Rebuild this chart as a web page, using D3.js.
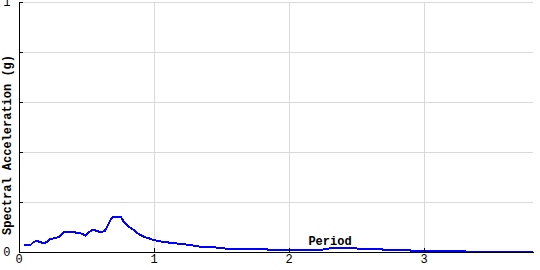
<!DOCTYPE html>
<html>
<head>
<meta charset="utf-8">
<script src="https://cdn.jsdelivr.net/npm/d3@7"></script>
<style>
  body { margin: 0; background: #fff; }
  .grid line { stroke: #d9d9d9; }
  .grid path { display: none; }
  .axis text { font-family: "Liberation Mono", monospace; font-size: 12px; fill: #000; }
  .axis path, .axis line { stroke: #000; }
</style>
</head>
<body>
<div id="chart"></div>
<script>
// Period (s) and spectral acceleration (g)
var periods = [0.04, 0.089, 0.113, 0.139, 0.163, 0.187, 0.213, 0.237, 0.274, 0.299,
    0.336, 0.361, 0.385, 0.41, 0.447, 0.472, 0.496, 0.521, 0.55, 0.583,
    0.607, 0.639, 0.657, 0.681, 0.699, 0.756, 0.78, 0.817, 0.854, 0.891,
    0.928, 0.965, 1.0, 1.064, 1.126, 1.2, 1.274, 1.348, 1.444, 1.546,
    1.84, 1.85, 2.25, 2.26, 2.36, 2.5, 2.51, 2.69, 2.7, 2.9,
    2.91, 3.3, 3.31, 3.81];
var accel = [0.026, 0.026, 0.039, 0.042, 0.037, 0.033, 0.039, 0.051, 0.053, 0.059,
    0.079, 0.077, 0.079, 0.077, 0.074, 0.071, 0.063, 0.077, 0.087, 0.082,
    0.077, 0.082, 0.099, 0.126, 0.139, 0.139, 0.119, 0.099, 0.086, 0.069,
    0.059, 0.053, 0.046, 0.039, 0.035, 0.030, 0.026, 0.019, 0.017, 0.011,
    0.011, 0.006, 0.006, 0.010, 0.015, 0.015, 0.011, 0.011, 0.006, 0.006,
    0.002, 0.002, 0.0, 0.0];
var xTicks = [0, 1, 2, 3];
var yTicks = [0, 0.2, 0.4, 0.6, 0.8, 1];
var yTickLabels = ["0", "", "", "", "", "1"];

var width = 540, height = 270;
var plotLeft = 18.5, plotRight = 533, plotTop = 1.5, plotBottom = 251.5;

var data = periods.map(function(p, i) { return { t: p, sa: accel[i] }; });

var xScale = d3.scaleLinear()
    .domain([0, (plotRight - plotLeft) / 135])
    .range([plotLeft, plotRight]);

var yScale = d3.scaleLinear()
    .domain([0, 1])
    .range([plotBottom, plotTop]);

var svg = d3.select("#chart")
    .append("svg")
    .attr("width", width)
    .attr("height", height);

// Gridlines
svg.append("g")
    .attr("class", "grid")
    .attr("shape-rendering", "crispEdges")
    .attr("transform", "translate(0," + plotBottom + ")")
    .call(d3.axisBottom(xScale).tickValues(xTicks.slice(1)).tickSize(-(plotBottom - plotTop)).tickFormat(""));

svg.append("g")
    .attr("class", "grid")
    .attr("shape-rendering", "crispEdges")
    .attr("transform", "translate(" + plotLeft + ",0)")
    .call(d3.axisLeft(yScale).tickValues(yTicks.slice(1)).tickSize(-(plotRight - plotLeft)).tickFormat(""));

// Data line
var line = d3.line()
    .x(function(d) { return xScale(d.t); })
    .y(function(d) { return yScale(d.sa); });

svg.append("path")
    .datum(data)
    .attr("d", line)
    .attr("fill", "none")
    .attr("stroke", "#0000ff")
    .attr("stroke-width", 2)
    .attr("shape-rendering", "crispEdges");

// Axes
svg.append("g")
    .attr("class", "axis")
    .attr("shape-rendering", "crispEdges")
    .attr("transform", "translate(0," + plotBottom + ")")
    .call(d3.axisBottom(xScale).tickValues(xTicks).tickSize(-4).tickSizeOuter(0).tickPadding(3)
        .tickFormat(function(d) { return d; }));

svg.append("g")
    .attr("class", "axis")
    .attr("shape-rendering", "crispEdges")
    .attr("transform", "translate(" + plotLeft + ",0)")
    .call(d3.axisLeft(yScale).tickValues(yTicks).tickSize(-4).tickSizeOuter(0).tickPadding(8)
        .tickFormat(function(d, i) { return yTickLabels[i]; }));

// Axis titles
svg.append("text")
    .attr("x", 330)
    .attr("y", 245)
    .attr("text-anchor", "middle")
    .attr("font-family", "Liberation Mono, monospace")
    .attr("font-weight", "bold")
    .attr("font-size", 12)
    .text("Period");

svg.append("text")
    .attr("transform", "translate(11,145) rotate(-90)")
    .attr("text-anchor", "middle")
    .attr("font-family", "Liberation Mono, monospace")
    .attr("font-weight", "bold")
    .attr("font-size", 12)
    .text("Spectral Acceleration (g)");
</script>
</body>
</html>
